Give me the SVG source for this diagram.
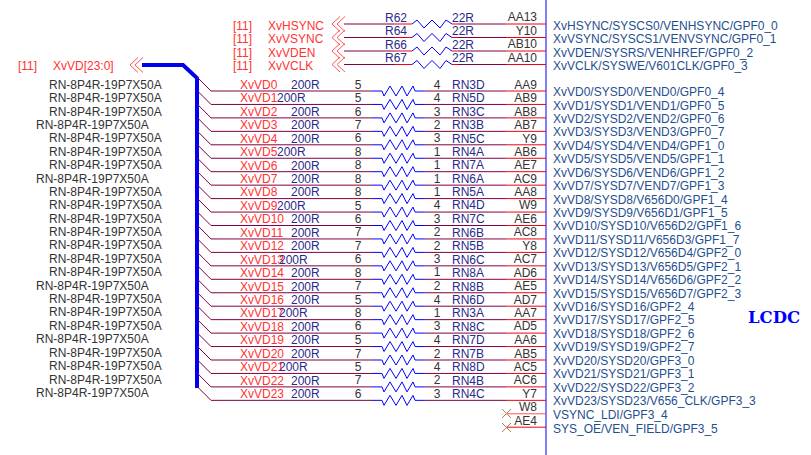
<svg xmlns="http://www.w3.org/2000/svg" xmlns:xlink="http://www.w3.org/1999/xlink" width="811" height="455" viewBox="0 0 811 455">
<style>
text{font-family:"Liberation Sans",Arial,sans-serif;font-size:12px}
.r{fill:#f33}.b{fill:#2a2a8c}.k{fill:#333}.p{fill:#1f4f8f}.e{text-anchor:end}.m{text-anchor:middle}
.w{fill:none;stroke:#800040;stroke-width:1}.red{fill:none;stroke:#f00010;stroke-width:1}.bl{fill:none;stroke:#0000ff;stroke-width:1}
.c{fill:none;stroke:#f55;stroke-width:1}
</style>
<defs>
<path id="z" class="bl" d="M372 0H382L384 5L390 -5L396 5L402 -5L407 5L413 -5L415 0H425"/>
<path id="t" class="bl" d="M412 0L417 -4L424 4L432 -4L440 4L446 -4L452 0"/>
<path id="rowline" d="M197 -14L211 0H372M425 0H506" class="w"/>
<path id="redend" class="red" d="M506 0H546"/>
<path id="ch" class="c" d="M-4 -7.5L-12 0L-4 7.5M1 -7.5L-7 0L1 7.5"/>
</defs>
<rect width="811" height="455" fill="#fff"/>
<g id="connectors">
<path d="M142 65H183L197 78V388" fill="none" stroke="#0000f0" stroke-width="4"/>
<path class="bl" d="M546 0V455"/>
<g>
<use href="#ch" x="344" y="24"/><use href="#ch" x="344" y="37.5"/><use href="#ch" x="344" y="51"/><use href="#ch" x="344" y="64.5"/><use href="#ch" x="142" y="65"/>
<path class="w" d="M344 24H395M458 24H506M344 37.5H395M458 37.5H506M344 51H395M458 51H506M344 64.5H395M458 64.5H506"/>
<path class="red" d="M395 24H412M452 24H458M395 37.5H412M452 37.5H458M395 51H412M452 51H458M395 64.5H412M452 64.5H458M506 24H546M506 37.5H546M506 51H546M506 64.5H546"/>
<use href="#t" y="24"/><use href="#t" y="37.5"/><use href="#t" y="51"/><use href="#t" y="64.5"/>
</g>
<g id="data-wires">
<use href="#rowline" y="91"/><use href="#z" y="91"/><use href="#redend" y="91"/>
<use href="#rowline" y="104.45"/><use href="#z" y="104.45"/><use href="#redend" y="104.45"/>
<use href="#rowline" y="117.9"/><use href="#z" y="117.9"/><use href="#redend" y="117.9"/>
<use href="#rowline" y="131.35"/><use href="#z" y="131.35"/><use href="#redend" y="131.35"/>
<use href="#rowline" y="144.8"/><use href="#z" y="144.8"/><use href="#redend" y="144.8"/>
<use href="#rowline" y="158.25"/><use href="#z" y="158.25"/><use href="#redend" y="158.25"/>
<use href="#rowline" y="171.7"/><use href="#z" y="171.7"/><use href="#redend" y="171.7"/>
<use href="#rowline" y="185.15"/><use href="#z" y="185.15"/><use href="#redend" y="185.15"/>
<use href="#rowline" y="198.6"/><use href="#z" y="198.6"/><use href="#redend" y="198.6"/>
<use href="#rowline" y="212.05"/><use href="#z" y="212.05"/><use href="#redend" y="212.05"/>
<use href="#rowline" y="225.5"/><use href="#z" y="225.5"/><use href="#redend" y="225.5"/>
<use href="#rowline" y="238.95"/><use href="#z" y="238.95"/><use href="#redend" y="238.95"/>
<use href="#rowline" y="252.4"/><use href="#z" y="252.4"/><use href="#redend" y="252.4"/>
<use href="#rowline" y="265.85"/><use href="#z" y="265.85"/><use href="#redend" y="265.85"/>
<use href="#rowline" y="279.3"/><use href="#z" y="279.3"/><use href="#redend" y="279.3"/>
<use href="#rowline" y="292.75"/><use href="#z" y="292.75"/><use href="#redend" y="292.75"/>
<use href="#rowline" y="306.2"/><use href="#z" y="306.2"/><use href="#redend" y="306.2"/>
<use href="#rowline" y="319.65"/><use href="#z" y="319.65"/><use href="#redend" y="319.65"/>
<use href="#rowline" y="333.1"/><use href="#z" y="333.1"/><use href="#redend" y="333.1"/>
<use href="#rowline" y="346.55"/><use href="#z" y="346.55"/><use href="#redend" y="346.55"/>
<use href="#rowline" y="360"/><use href="#z" y="360"/><use href="#redend" y="360"/>
<use href="#rowline" y="373.45"/><use href="#z" y="373.45"/><use href="#redend" y="373.45"/>
<use href="#rowline" y="386.9"/><use href="#z" y="386.9"/><use href="#redend" y="386.9"/>
<use href="#rowline" y="400.35"/><use href="#z" y="400.35"/><use href="#redend" y="400.35"/>
<path class="c" d="M506 413.8H546"/><path class="red" d="M506 427.2H546"/>
<path stroke="#b08050" fill="none" d="M502 409L511 418M511 409L502 418M502 423L511 432M511 423L502 432"/>
</g>
</g>
<g id="bus-label"><text class="r" x="18" y="70">[11]</text><text class="r" x="53" y="70">XvVD[23:0]</text></g>
<g id="sync0"><text class="r" x="233" y="30">[11]</text><text class="r" x="268" y="30">XvHSYNC</text><text class="b" x="385" y="22">R62</text><text class="b" x="452" y="22">22R</text><text class="k e" x="537" y="21">AA13</text><text class="p" x="553" y="30">XvHSYNC/SYSCS0/VENHSYNC/GPF0_0</text></g>
<g id="sync1"><text class="r" x="233" y="43">[11]</text><text class="r" x="268" y="43">XvVSYNC</text><text class="b" x="385" y="35">R64</text><text class="b" x="452" y="35">22R</text><text class="k e" x="537" y="35">Y10</text><text class="p" x="553" y="43">XvVSYNC/SYSCS1/VENVSYNC/GPF0_1</text></g>
<g id="sync2"><text class="r" x="233" y="57">[11]</text><text class="r" x="268" y="57">XvVDEN</text><text class="b" x="385" y="49">R66</text><text class="b" x="452" y="49">22R</text><text class="k e" x="537" y="48">AB10</text><text class="p" x="553" y="57">XvVDEN/SYSRS/VENHREF/GPF0_2</text></g>
<g id="sync3"><text class="r" x="233" y="70">[11]</text><text class="r" x="268" y="70">XvVCLK</text><text class="b" x="385" y="62">R67</text><text class="b" x="452" y="62">22R</text><text class="k e" x="537" y="62">AA10</text><text class="p" x="553" y="70">XvVCLK/SYSWE/V601CLK/GPF0_3</text></g>
<g id="row0"><text class="k" x="49" y="89">RN-8P4R-19P7X50A</text><text class="r" x="240" y="89">XvVD0</text><text class="b" x="291" y="89">200R</text><text class="k m" x="358" y="89">5</text><text class="k m" x="437" y="89">4</text><text class="b" x="452" y="89">RN3D</text><text class="k e" x="537" y="89">AA9</text><text class="p" x="553" y="96">XvVD0/SYSD0/VEND0/GPF0_4</text></g>
<g id="row1"><text class="k" x="49" y="102">RN-8P4R-19P7X50A</text><text class="r" x="240" y="102">XvVD1</text><text class="b" x="277" y="102">200R</text><text class="k m" x="358" y="102">5</text><text class="k m" x="437" y="102">4</text><text class="b" x="452" y="102">RN5D</text><text class="k e" x="537" y="102">AB9</text><text class="p" x="553" y="110">XvVD1/SYSD1/VEND1/GPF0_5</text></g>
<g id="row2"><text class="k" x="49" y="116">RN-8P4R-19P7X50A</text><text class="r" x="240" y="116">XvVD2</text><text class="b" x="291" y="116">200R</text><text class="k m" x="358" y="116">6</text><text class="k m" x="437" y="116">3</text><text class="b" x="452" y="116">RN3C</text><text class="k e" x="537" y="116">AB8</text><text class="p" x="553" y="123">XvVD2/SYSD2/VEND2/GPF0_6</text></g>
<g id="row3"><text class="k" x="36" y="129">RN-8P4R-19P7X50A</text><text class="r" x="240" y="129">XvVD3</text><text class="b" x="291" y="129">200R</text><text class="k m" x="358" y="129">7</text><text class="k m" x="437" y="129">2</text><text class="b" x="452" y="129">RN3B</text><text class="k e" x="537" y="129">AB7</text><text class="p" x="553" y="136">XvVD3/SYSD3/VEND3/GPF0_7</text></g>
<g id="row4"><text class="k" x="49" y="142">RN-8P4R-19P7X50A</text><text class="r" x="240" y="143">XvVD4</text><text class="b" x="291" y="143">200R</text><text class="k m" x="358" y="142">6</text><text class="k m" x="437" y="142">3</text><text class="b" x="452" y="143">RN5C</text><text class="k e" x="537" y="143">Y9</text><text class="p" x="553" y="150">XvVD4/SYSD4/VEND4/GPF1_0</text></g>
<g id="row5"><text class="k" x="49" y="156">RN-8P4R-19P7X50A</text><text class="r" x="240" y="156">XvVD5</text><text class="b" x="277" y="156">200R</text><text class="k m" x="358" y="156">8</text><text class="k m" x="437" y="156">1</text><text class="b" x="452" y="156">RN4A</text><text class="k e" x="537" y="156">AB6</text><text class="p" x="553" y="163">XvVD5/SYSD5/VEND5/GPF1_1</text></g>
<g id="row6"><text class="k" x="49" y="169">RN-8P4R-19P7X50A</text><text class="r" x="240" y="170">XvVD6</text><text class="b" x="291" y="170">200R</text><text class="k m" x="358" y="169">8</text><text class="k m" x="437" y="169">1</text><text class="b" x="452" y="169">RN7A</text><text class="k e" x="537" y="169">AE7</text><text class="p" x="553" y="177">XvVD6/SYSD6/VEND6/GPF1_2</text></g>
<g id="row7"><text class="k" x="36" y="183">RN-8P4R-19P7X50A</text><text class="r" x="240" y="183">XvVD7</text><text class="b" x="291" y="183">200R</text><text class="k m" x="358" y="183">8</text><text class="k m" x="437" y="183">1</text><text class="b" x="452" y="183">RN6A</text><text class="k e" x="537" y="183">AC9</text><text class="p" x="553" y="190">XvVD7/SYSD7/VEND7/GPF1_3</text></g>
<g id="row8"><text class="k" x="49" y="196">RN-8P4R-19P7X50A</text><text class="r" x="240" y="196">XvVD8</text><text class="b" x="291" y="196">200R</text><text class="k m" x="358" y="196">8</text><text class="k m" x="437" y="196">1</text><text class="b" x="452" y="196">RN5A</text><text class="k e" x="537" y="196">AA8</text><text class="p" x="553" y="204">XvVD8/SYSD8/V656D0/GPF1_4</text></g>
<g id="row9"><text class="k" x="49" y="209">RN-8P4R-19P7X50A</text><text class="r" x="240" y="210">XvVD9</text><text class="b" x="277" y="210">200R</text><text class="k m" x="358" y="210">5</text><text class="k m" x="437" y="209">4</text><text class="b" x="452" y="209">RN4D</text><text class="k e" x="537" y="209">W9</text><text class="p" x="553" y="217">XvVD9/SYSD9/V656D1/GPF1_5</text></g>
<g id="row10"><text class="k" x="49" y="223">RN-8P4R-19P7X50A</text><text class="r" x="240" y="223">XvVD10</text><text class="b" x="291" y="223">200R</text><text class="k m" x="358" y="223">6</text><text class="k m" x="437" y="223">3</text><text class="b" x="452" y="223">RN7C</text><text class="k e" x="537" y="223">AE6</text><text class="p" x="553" y="230">XvVD10/SYSD10/V656D2/GPF1_6</text></g>
<g id="row11"><text class="k" x="49" y="236">RN-8P4R-19P7X50A</text><text class="r" x="240" y="237">XvVD11</text><text class="b" x="291" y="237">200R</text><text class="k m" x="358" y="236">7</text><text class="k m" x="437" y="236">2</text><text class="b" x="452" y="237">RN6B</text><text class="k e" x="537" y="236">AC8</text><text class="p" x="553" y="244">XvVD11/SYSD11/V656D3/GPF1_7</text></g>
<g id="row12"><text class="k" x="49" y="249">RN-8P4R-19P7X50A</text><text class="r" x="240" y="250">XvVD12</text><text class="b" x="291" y="250">200R</text><text class="k m" x="358" y="250">7</text><text class="k m" x="437" y="250">2</text><text class="b" x="452" y="250">RN5B</text><text class="k e" x="537" y="250">Y8</text><text class="p" x="553" y="257">XvVD12/SYSD12/V656D4/GPF2_0</text></g>
<g id="row13"><text class="k" x="49" y="263">RN-8P4R-19P7X50A</text><text class="r" x="240" y="264">XvVD13</text><text class="b" x="279" y="264">200R</text><text class="k m" x="358" y="263">6</text><text class="k m" x="437" y="263">3</text><text class="b" x="452" y="264">RN6C</text><text class="k e" x="537" y="263">AC7</text><text class="p" x="553" y="271">XvVD13/SYSD13/V656D5/GPF2_1</text></g>
<g id="row14"><text class="k" x="49" y="276">RN-8P4R-19P7X50A</text><text class="r" x="240" y="277">XvVD14</text><text class="b" x="291" y="277">200R</text><text class="k m" x="358" y="277">8</text><text class="k m" x="437" y="276">1</text><text class="b" x="452" y="277">RN8A</text><text class="k e" x="537" y="277">AD6</text><text class="p" x="553" y="284">XvVD14/SYSD14/V656D6/GPF2_2</text></g>
<g id="row15"><text class="k" x="36" y="290">RN-8P4R-19P7X50A</text><text class="r" x="240" y="291">XvVD15</text><text class="b" x="291" y="291">200R</text><text class="k m" x="358" y="290">7</text><text class="k m" x="437" y="290">2</text><text class="b" x="452" y="291">RN8B</text><text class="k e" x="537" y="290">AE5</text><text class="p" x="553" y="298">XvVD15/SYSD15/V656D7/GPF2_3</text></g>
<g id="row16"><text class="k" x="49" y="303">RN-8P4R-19P7X50A</text><text class="r" x="240" y="304">XvVD16</text><text class="b" x="291" y="304">200R</text><text class="k m" x="358" y="304">5</text><text class="k m" x="437" y="304">4</text><text class="b" x="452" y="304">RN6D</text><text class="k e" x="537" y="304">AD7</text><text class="p" x="553" y="311">XvVD16/SYSD16/GPF2_4</text></g>
<g id="row17"><text class="k" x="49" y="316">RN-8P4R-19P7X50A</text><text class="r" x="240" y="317">XvVD17</text><text class="b" x="279" y="317">200R</text><text class="k m" x="358" y="317">8</text><text class="k m" x="437" y="317">1</text><text class="b" x="452" y="317">RN3A</text><text class="k e" x="537" y="317">AA7</text><text class="p" x="553" y="324">XvVD17/SYSD17/GPF2_5</text></g>
<g id="row18"><text class="k" x="49" y="330">RN-8P4R-19P7X50A</text><text class="r" x="240" y="331">XvVD18</text><text class="b" x="291" y="331">200R</text><text class="k m" x="358" y="330">6</text><text class="k m" x="437" y="330">3</text><text class="b" x="452" y="331">RN8C</text><text class="k e" x="537" y="330">AD5</text><text class="p" x="553" y="338">XvVD18/SYSD18/GPF2_6</text></g>
<g id="row19"><text class="k" x="36" y="343">RN-8P4R-19P7X50A</text><text class="r" x="240" y="344">XvVD19</text><text class="b" x="291" y="344">200R</text><text class="k m" x="358" y="344">5</text><text class="k m" x="437" y="344">4</text><text class="b" x="452" y="344">RN7D</text><text class="k e" x="537" y="344">AA6</text><text class="p" x="553" y="351">XvVD19/SYSD19/GPF2_7</text></g>
<g id="row20"><text class="k" x="49" y="357">RN-8P4R-19P7X50A</text><text class="r" x="240" y="358">XvVD20</text><text class="b" x="291" y="358">200R</text><text class="k m" x="358" y="358">7</text><text class="k m" x="437" y="358">2</text><text class="b" x="452" y="358">RN7B</text><text class="k e" x="537" y="358">AB5</text><text class="p" x="553" y="365">XvVD20/SYSD20/GPF3_0</text></g>
<g id="row21"><text class="k" x="49" y="370">RN-8P4R-19P7X50A</text><text class="r" x="240" y="371">XvVD21</text><text class="b" x="279" y="371">200R</text><text class="k m" x="358" y="371">5</text><text class="k m" x="437" y="371">4</text><text class="b" x="452" y="371">RN8D</text><text class="k e" x="537" y="371">AC5</text><text class="p" x="553" y="378">XvVD21/SYSD21/GPF3_1</text></g>
<g id="row22"><text class="k" x="49" y="384">RN-8P4R-19P7X50A</text><text class="r" x="240" y="385">XvVD22</text><text class="b" x="291" y="385">200R</text><text class="k m" x="358" y="384">7</text><text class="k m" x="437" y="384">2</text><text class="b" x="452" y="385">RN4B</text><text class="k e" x="537" y="384">AC6</text><text class="p" x="553" y="392">XvVD22/SYSD22/GPF3_2</text></g>
<g id="row23"><text class="k" x="36" y="397">RN-8P4R-19P7X50A</text><text class="r" x="240" y="398">XvVD23</text><text class="b" x="291" y="398">200R</text><text class="k m" x="358" y="398">6</text><text class="k m" x="437" y="398">3</text><text class="b" x="452" y="398">RN4C</text><text class="k e" x="537" y="398">Y7</text><text class="p" x="553" y="405">XvVD23/SYSD23/V656_CLK/GPF3_3</text></g>
<g id="row24"><text class="k e" x="537" y="411">W8</text><text class="p" x="553" y="419">VSYNC_LDI/GPF3_4</text></g>
<g id="row25"><text class="k e" x="537" y="425">AE4</text><text class="p" x="553" y="433">SYS_OE/VEN_FIELD/GPF3_5</text></g>
<g id="lcdc"><text x="748" y="323" style="font-family:'DejaVu Serif',serif;font-size:16.5px;font-weight:bold" fill="#0000ff">LCDC</text></g>
</svg>
